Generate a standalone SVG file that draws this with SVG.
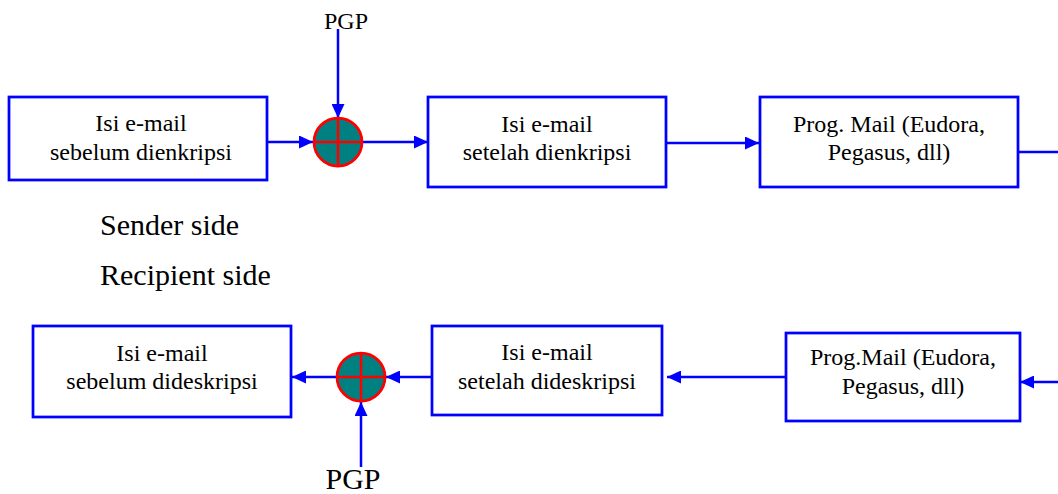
<svg xmlns="http://www.w3.org/2000/svg" width="1058" height="494" viewBox="0 0 1058 494">
<style>
.box{fill:#fff;stroke:#0000ff;stroke-width:2.75}
.t{font-family:"Liberation Serif","Times New Roman",serif;font-size:24px;fill:#000;text-anchor:middle}
.lbl{font-family:"Liberation Serif","Times New Roman",serif;font-size:30px;fill:#000}
.c{fill:none;stroke:#0000ff;stroke-width:2.5}
.xor circle{fill:#008080;stroke:#ff0000;stroke-width:2.75}
.xor line{stroke:#ff0000;stroke-width:2.5}
</style>
<defs>
<marker id="ah" markerUnits="userSpaceOnUse" markerWidth="15" markerHeight="13" refX="14" refY="6.5" orient="auto">
<path d="M0,0 L14,6.5 L0,13 z" fill="#0000ff"/>
</marker>
</defs>
<rect width="1058" height="494" fill="#fff"/>
<g id="connectors">
<line class="c" x1="267" y1="142" x2="313" y2="142" marker-end="url(#ah)"/>
<line class="c" x1="338" y1="29" x2="338" y2="118" marker-end="url(#ah)"/>
<line class="c" x1="362" y1="142" x2="428" y2="142" marker-end="url(#ah)"/>
<line class="c" x1="666" y1="143" x2="759" y2="143" marker-end="url(#ah)"/>
<line class="c" x1="1018" y1="152" x2="1058" y2="152"/>
<line class="c" x1="1058" y1="382" x2="1020" y2="382" marker-end="url(#ah)"/>
<line class="c" x1="786" y1="377" x2="667" y2="377" marker-end="url(#ah)"/>
<line class="c" x1="432" y1="377" x2="386" y2="377" marker-end="url(#ah)"/>
<line class="c" x1="337" y1="377" x2="292" y2="377" marker-end="url(#ah)"/>
<line class="c" x1="361" y1="467" x2="361" y2="402" marker-end="url(#ah)"/>
</g>
<g id="n1">
<rect class="box" x="9" y="97" width="258" height="83"/>
<text class="t" x="141" y="131">Isi e-mail</text>
<text class="t" x="141" y="160">sebelum dienkripsi</text>
</g>
<g id="xor1" class="xor">
<circle cx="338" cy="142" r="24"/>
<line x1="314" y1="142" x2="362" y2="142"/>
<line x1="338" y1="118" x2="338" y2="166"/>
</g>
<g id="pgp1">
<text class="t" x="346" y="29">PGP</text>
</g>
<g id="n2">
<rect class="box" x="428" y="97" width="238" height="90"/>
<text class="t" x="547" y="132">Isi e-mail</text>
<text class="t" x="547" y="160">setelah dienkripsi</text>
</g>
<g id="n3">
<rect class="box" x="760" y="97" width="258" height="90"/>
<text class="t" x="889" y="132">Prog. Mail (Eudora,</text>
<text class="t" x="889" y="160">Pegasus, dll)</text>
</g>
<g id="sender">
<text class="lbl" x="100" y="235">Sender side</text>
</g>
<g id="recipient">
<text class="lbl" x="100" y="285">Recipient side</text>
</g>
<g id="n4">
<rect class="box" x="33" y="326" width="258" height="91"/>
<text class="t" x="162" y="361">Isi e-mail</text>
<text class="t" x="162" y="389">sebelum dideskripsi</text>
</g>
<g id="xor2" class="xor">
<circle cx="361" cy="377" r="24"/>
<line x1="337" y1="377" x2="385" y2="377"/>
<line x1="361" y1="353" x2="361" y2="401"/>
</g>
<g id="pgp2">
<text class="lbl" x="353" y="489" text-anchor="middle">PGP</text>
</g>
<g id="n5">
<rect class="box" x="432" y="326" width="230" height="89"/>
<text class="t" x="547" y="360">Isi e-mail</text>
<text class="t" x="547" y="389">setelah dideskripsi</text>
</g>
<g id="n6">
<rect class="box" x="786" y="333" width="234" height="88"/>
<text class="t" x="903" y="365">Prog.Mail (Eudora,</text>
<text class="t" x="903" y="394">Pegasus, dll)</text>
</g>
</svg>
